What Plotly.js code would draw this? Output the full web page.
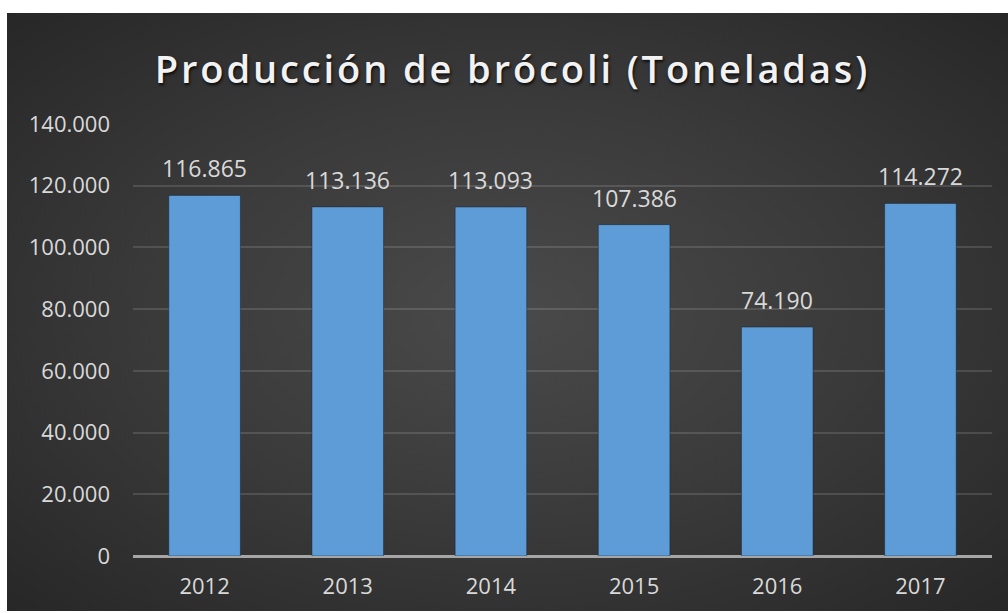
<!DOCTYPE html>
<html>
<head>
<meta charset="utf-8">
<script src="https://cdn.plot.ly/plotly-3.0.1.min.js"></script>
<style>
  html, body { margin: 0; padding: 0; background: #ffffff; }
  #chart {
    position: absolute; left: 7px; top: 13px;
    width: 1001px; height: 598px;
    background: radial-gradient(ellipse at 50% 50%, #4a4a4a 0%, #3a3a3a 50%, #272727 100%);
  }
  .gtitle { letter-spacing: 2.9px; }
</style>
</head>
<body>
<div id="chart"></div>
<script>
// datos de producción por año
var years = ["2012", "2013", "2014", "2015", "2016", "2017"];
var toneladas = [116865, 113136, 113093, 107386, 74190, 114272];
var yTicks = [0, 20000, 40000, 60000, 80000, 100000, 120000, 140000];

// formato español: 116.865
function fmt(v) {
    return v.toString().replace(/\B(?=(\d{3})+(?!\d))/g, ".");
}

var trace = {
    x: years,
    y: toneladas,
    type: "bar",
    marker: {color: "#5d9cd7", line: {color: "rgba(20,30,45,0.45)", width: 1}},
    hoverinfo: "x+y"
};

// etiquetas de datos encima de cada barra (x = indice de categoria)
var labels = toneladas.map(function (v, i) {
    return {
        x: i,
        y: v,
        xref: "x",
        yref: "y",
        text: fmt(v),
        showarrow: false,
        yanchor: "bottom",
        yshift: 9,
        font: {family: "Open Sans", size: 23, color: "#d9d9d9"}
    };
});

var layout = {
    title: {
        text: "Producción de brócoli (Toneladas)",
        font: {family: "Open Sans", size: 38, weight: 600, color: "#f2f2f2", shadow: "1px 2px 3px rgba(0,0,0,0.8)"},
        x: 0.505, xanchor: "center",
        y: 0.905, yanchor: "middle"
    },
    separators: ",.",
    paper_bgcolor: "rgba(0,0,0,0)",
    plot_bgcolor: "rgba(0,0,0,0)",
    margin: {l: 126, r: 16, t: 111, b: 55},
    bargap: 0.5,
    showlegend: false,
    annotations: labels,
    xaxis: {
        type: "category",
        categoryarray: years,
        showgrid: false,
        showline: false,
        ticks: "",
        ticklabelstandoff: 15,
        tickfont: {family: "Open Sans", size: 22, color: "#d9d9d9"}
    },
    yaxis: {
        range: [0, 140000],
        tickvals: yTicks,
        tickformat: ",d",
        showgrid: true,
        gridcolor: "rgba(255,255,255,0.13)",
        gridwidth: 1.5,
        zeroline: true,
        zerolinecolor: "#a6a6a6",
        zerolinewidth: 2.5,
        showline: false,
        ticks: "",
        ticklabelstandoff: 22,
        tickfont: {family: "Open Sans", size: 22, color: "#d9d9d9"}
    }
};

Plotly.newPlot("chart", [trace], layout, {displayModeBar: false});
</script>
</body>
</html>
